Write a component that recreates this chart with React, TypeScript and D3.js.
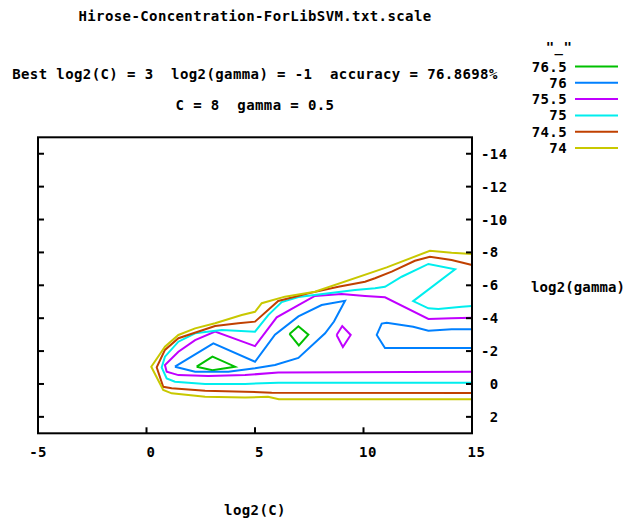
import React, { useEffect, useRef } from "react";
import * as d3 from "d3";

// ---- data (log2(C), log2(gamma)) contour vertices ----
const title = "Hirose-Concentration-ForLibSVM.txt.scale";
const bestLine = "Best log2(C) = 3  log2(gamma) = -1  accuracy = 76.8698%";
const paramLine = "C = 8  gamma = 0.5";
const keyTitle = '"_"';
const xTicks = [-5, 0, 5, 10, 15];
const yTicks = [-14, -12, -10, -8, -6, -4, -2, 0, 2];
const levels = ["76.5", "76", "75.5", "75", "74.5", "74"];
const colors = ["#00c000", "#0080ff", "#c000ff", "#00eeee", "#c04000", "#c8c800"];

type P = [number, number];

const contour765: P[][] = [
  [[2.31, -1.05], [3.04, -1.66], [4.08, -1.05], [3.04, -0.83], [2.31, -1.05]],
  [[6.59, -3.04], [7.0, -3.51], [7.46, -3.0], [7.02, -2.34], [6.59, -3.04]],
];
const contour76: P[][] = [
  [[1.31, -1.05], [3.08, -2.47], [5.0, -1.35], [5.92, -3.0], [7.0, -4.11], [8.07, -4.8], [9.15, -5.06],
   [8.64, -3.8], [8.23, -3.08], [7.0, -1.58], [5.92, -1.15], [5.0, -0.95], [3.77, -0.75], [2.24, -0.75], [1.31, -1.05]],
  [[15, -3.32], [14.06, -3.32], [12.99, -3.24], [12.29, -3.48], [11.07, -3.72], [10.84, -3.67], [10.61, -2.98],
   [10.99, -2.19], [15, -2.19]],
];
const contour755: P[][] = [
  [[15, -4.03], [14.06, -3.99], [12.99, -3.95], [10.99, -5.27], [10.07, -5.35], [8.99, -5.47], [7.76, -5.35],
   [7.0, -4.8], [6.0, -4.05], [5.0, -2.3], [3.16, -3.18], [2.24, -2.67], [1.47, -1.96], [0.85, -1.15],
   [0.93, -0.75], [1.47, -0.54], [2.85, -0.48], [4.54, -0.54], [6.07, -0.7], [15, -0.75]],
  [[8.76, -2.98], [9.02, -3.52], [9.41, -2.98], [9.05, -2.25], [8.76, -2.98]],
];
const contour75: P[][] = [
  [[15, -4.74], [14.53, -4.7], [13.45, -4.56], [12.99, -4.6], [12.29, -5.04], [14.22, -6.97], [12.99, -7.3],
   [11.76, -6.52], [10.99, -5.91], [10.53, -5.82], [9.61, -5.71], [7.0, -5.29], [6.23, -4.98], [5.61, -4.19],
   [5.0, -3.18], [3.47, -3.28], [2.24, -3.08], [1.47, -2.57], [0.85, -1.66], [0.7, -1.01], [0.93, -0.34],
   [1.31, -0.14], [2.7, 0.0], [4.54, 0.0], [6.07, -0.08], [15, -0.08]],
];
const contour745: P[][] = [
  [[15, -7.23], [14.06, -7.54], [13.06, -7.74], [12.37, -7.49], [11.3, -6.83], [10.53, -6.43], [10.07, -6.22],
   [8.84, -5.91], [7.46, -5.51], [6.07, -5.05], [5.0, -3.79], [4.23, -3.69], [3.16, -3.52], [1.47, -2.78],
   [0.85, -2.07], [0.47, -1.01], [0.77, 0.17], [1.16, 0.26], [2.7, 0.41], [4.54, 0.47], [5.77, 0.53], [15, 0.55]],
];
const contour74: P[][] = [
  [[15, -7.9], [14.06, -7.98], [13.06, -8.1], [11.07, -7.09], [7.76, -5.61], [6.38, -5.31], [5.31, -4.91],
   [5.0, -4.39], [4.39, -4.19], [3.16, -3.69], [2.24, -3.38], [1.47, -2.98], [0.85, -2.27], [0.22, -1.05],
   [0.77, 0.37], [1.16, 0.57], [2.7, 0.77], [4.54, 0.82], [5.6, 0.78], [6.1, 0.93], [15, 0.93]],
];
const contours = [contour765, contour76, contour755, contour75, contour745, contour74];

const W = 627;
const H = 520;
const FONT = "'DejaVu Sans Mono', 'Liberation Mono', monospace";

const fmt = (v: number) => (v < 0 ? String(v) : " " + v);

export default function App() {
  const ref = useRef<SVGSVGElement | null>(null);

  useEffect(() => {
    const svg = d3.select(ref.current);
    svg.selectAll("*").remove();

    const x = d3.scaleLinear().domain([-5, 15]).range([38, 472]);
    const y = d3.scaleLinear().domain([-15, 3]).range([137.3, 433.3]);

    const txt = (g: any, ls = 0.4) =>
      g.attr("font-family", FONT).attr("font-size", 14).attr("font-weight", "bold")
        .attr("letter-spacing", ls).attr("fill", "#000").style("white-space", "pre");

    // titles
    txt(svg.append("text")).attr("x", 255).attr("y", 21).attr("text-anchor", "middle").text(title);
    txt(svg.append("text")).attr("x", 255).attr("y", 79).attr("text-anchor", "middle").text(bestLine);
    txt(svg.append("text")).attr("x", 255).attr("y", 110).attr("text-anchor", "middle").text(paramLine);

    // contours
    const line = d3.line<P>().x((d) => x(d[0])).y((d) => y(d[1]));
    const cg = svg.append("g");
    contours.forEach((lines, i) => {
      lines.forEach((pts) => {
        cg.append("path").attr("d", line(pts)).attr("fill", "none")
          .attr("stroke", colors[i]).attr("stroke-width", 2).attr("stroke-linejoin", "miter");
      });
    });

    // frame
    const [x0, x1] = x.range();
    const [y0, y1] = y.range();
    svg.append("rect").attr("x", x0).attr("y", y0).attr("width", x1 - x0).attr("height", y1 - y0)
      .attr("fill", "none").attr("stroke", "#000").attr("stroke-width", 2);

    // ticks
    const tk = svg.append("g").attr("stroke", "#000").attr("stroke-width", 2);
    xTicks.forEach((v) => {
      tk.append("line").attr("x1", x(v)).attr("x2", x(v)).attr("y1", y1).attr("y2", y1 - 6);
    });
    yTicks.forEach((v) => {
      tk.append("line").attr("x1", x1).attr("x2", x1 - 6).attr("y1", y(v)).attr("y2", y(v));
      tk.append("line").attr("x1", x0).attr("x2", x0 + 6).attr("y1", y(v)).attr("y2", y(v));
    });

    // tick labels
    xTicks.forEach((v) => {
      txt(svg.append("text")).attr("x", x(v)).attr("y", 457).attr("text-anchor", "middle").text(fmt(v));
    });
    yTicks.forEach((v) => {
      txt(svg.append("text")).attr("x", 481).attr("y", y(v) + 5).attr("text-anchor", "start").text(fmt(v));
    });

    // axis labels
    txt(svg.append("text")).attr("x", 255).attr("y", 515).attr("text-anchor", "middle").text("log2(C)");
    txt(svg.append("text"), 0).attr("x", 531).attr("y", 292).attr("text-anchor", "start")
      .attr("textLength", 94).attr("lengthAdjust", "spacing").text("log2(gamma)");

    // key
    txt(svg.append("text")).attr("x", 559).attr("y", 52).attr("text-anchor", "middle").text(keyTitle);
    levels.forEach((lv, i) => {
      const ly = 66.5 + i * 16.3;
      txt(svg.append("text")).attr("x", 567).attr("y", ly + 5).attr("text-anchor", "end").text(lv);
      svg.append("line").attr("x1", 575).attr("x2", 618).attr("y1", ly).attr("y2", ly)
        .attr("stroke", colors[i]).attr("stroke-width", 2);
    });
  }, []);

  return (
    <svg ref={ref} width={W} height={H} viewBox={`0 0 ${W} ${H}`}
      style={{ position: "absolute", left: 0, top: 0, background: "#fff" }} />
  );
}
